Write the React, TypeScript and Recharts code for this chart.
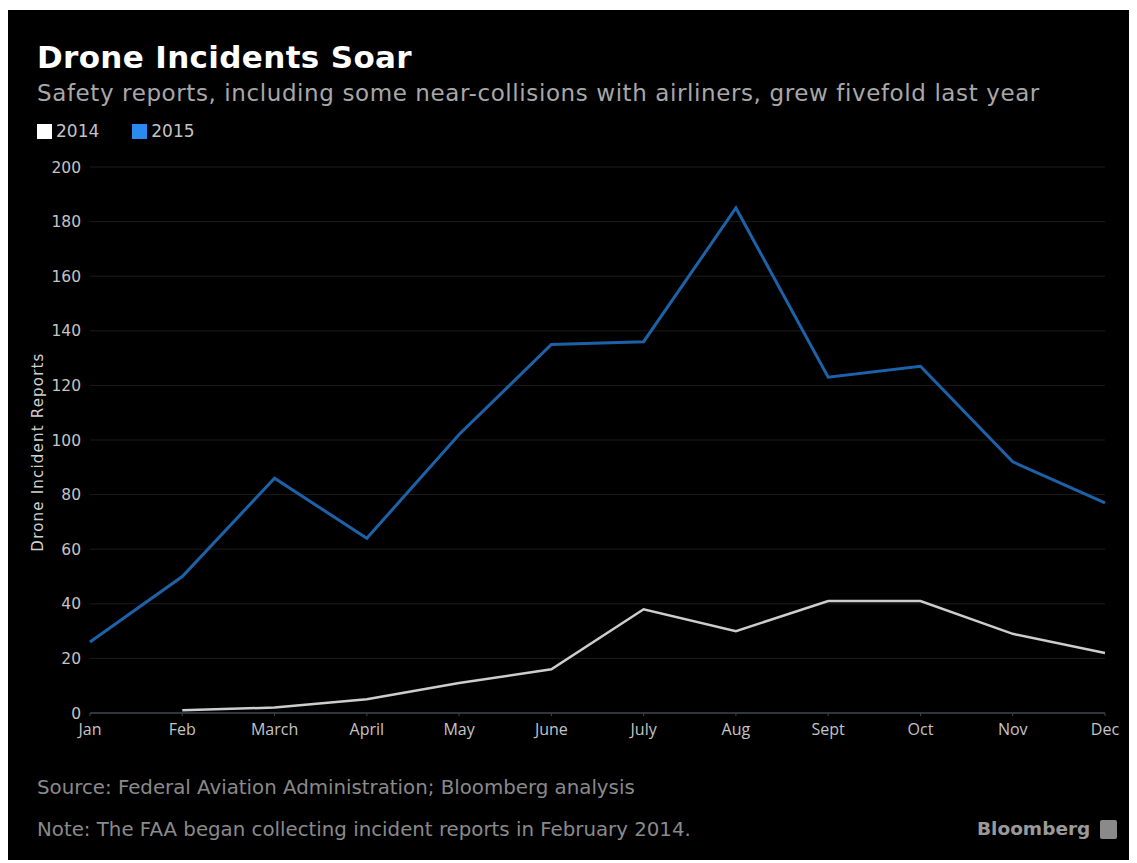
import * as React from "react";
import { LineChart, Line, XAxis, YAxis, CartesianGrid, Label } from "recharts";

const months = ["Jan", "Feb", "March", "April", "May", "June", "July", "Aug", "Sept", "Oct", "Nov", "Dec"];
const reports2014 = [null, 1, 2, 5, 11, 16, 38, 30, 41, 41, 29, 22];
const reports2015 = [26, 50, 86, 64, 102, 135, 136, 185, 123, 127, 92, 77];
const yTicks = [0, 20, 40, 60, 80, 100, 120, 140, 160, 180, 200];

const data = months.map((m, i) => ({ month: m, y2014: reports2014[i], y2015: reports2015[i] }));

const FONT = "'DejaVu Sans', 'Open Sans', sans-serif";
const TICK_FONT = "'Open Sans', 'DejaVu Sans', sans-serif";
const LINE_2015 = "#1d62a8";
const SWATCH_2015 = "#2a8af0";
const LINE_2014 = "#cdcdcd";

export default function App() {
  return (
    <div style={{ position: "relative", margin: "-8px 0 0 -8px", width: 1137, height: 863, background: "#fff", fontFamily: FONT, overflow: "hidden" }}>
      <div style={{ position: "absolute", left: 7, top: 10, width: 1130, height: 850, background: "#000" }} />

      <div style={{ position: "absolute", left: 37, top: 37, color: "#fff", fontSize: 31, fontWeight: 700, letterSpacing: 0.35, lineHeight: "40px", whiteSpace: "nowrap" }}>
        Drone Incidents Soar
      </div>
      <div style={{ position: "absolute", left: 37, top: 78, color: "#a8a8a8", fontSize: 23, letterSpacing: 0.6, lineHeight: "30px", whiteSpace: "nowrap" }}>
        Safety reports, including some near-collisions with airliners, grew fivefold last year
      </div>

      <div style={{ position: "absolute", left: 37, top: 121, display: "flex", alignItems: "center", color: "#c4c4c4", fontSize: 17, lineHeight: "20px" }}>
        <span style={{ width: 15, height: 15, background: "#fff", display: "inline-block", marginRight: 4 }} />
        <span style={{ marginRight: 33 }}>2014</span>
        <span style={{ width: 15, height: 15, background: SWATCH_2015, display: "inline-block", marginRight: 4 }} />
        <span>2015</span>
      </div>

      <div style={{ position: "absolute", left: 0, top: 0 }}>
        <LineChart width={1137} height={863} data={data} margin={{ top: 167, right: 32, left: 10, bottom: 120 }}>
          <CartesianGrid vertical={false} stroke="#1b1b1b" strokeWidth={1} />
          <XAxis
            dataKey="month"
            height={30}
            interval={0}
            padding={{ left: 0, right: 0 }}
            axisLine={{ stroke: "#3a4350", strokeWidth: 1.5 }}
            tickLine={{ stroke: "#3a4350" }}
            tickSize={3}
            tickMargin={8}
            tick={{ fill: "#c4c4c4", fontSize: 16, fontFamily: TICK_FONT }}
          />
          <YAxis
            width={80}
            domain={[0, 200]}
            ticks={yTicks}
            interval={0}
            axisLine={false}
            tickLine={false}
            tickMargin={3}
            tick={{ fill: "#c4c4c4", fontSize: 15.5, fontFamily: FONT }}
          >
            <Label
              content={() => (
                <text
                  x={43}
                  y={452}
                  transform="rotate(-90 43 452)"
                  textAnchor="middle"
                  fill="#d0d0d0"
                  fontSize={15}
                  letterSpacing={1.2}
                  fontFamily={FONT}
                >
                  Drone Incident Reports
                </text>
              )}
            />
          </YAxis>
          <Line type="linear" dataKey="y2015" stroke={LINE_2015} strokeWidth={3} dot={false} isAnimationActive={false} />
          <Line type="linear" dataKey="y2014" stroke={LINE_2014} strokeWidth={2.5} dot={false} connectNulls={false} isAnimationActive={false} />
        </LineChart>
      </div>

      <div style={{ position: "absolute", left: 37, top: 775, color: "#8a8a8a", fontSize: 19.8, lineHeight: "26px", whiteSpace: "nowrap" }}>
        Source: Federal Aviation Administration; Bloomberg analysis
      </div>
      <div style={{ position: "absolute", left: 37, top: 817, color: "#8a8a8a", fontSize: 19.8, lineHeight: "26px", whiteSpace: "nowrap" }}>
        Note: The FAA began collecting incident reports in February 2014.
      </div>
      <div style={{ position: "absolute", left: 977, top: 816, color: "#9a9a9a", fontSize: 18.5, fontWeight: 700, lineHeight: "26px", display: "flex", alignItems: "center", whiteSpace: "nowrap" }}>
        <span>Bloomberg</span>
        <span style={{ width: 17, height: 19, background: "#8a8a8a", borderRadius: 2, marginLeft: 10, display: "inline-block" }} />
      </div>
    </div>
  );
}
